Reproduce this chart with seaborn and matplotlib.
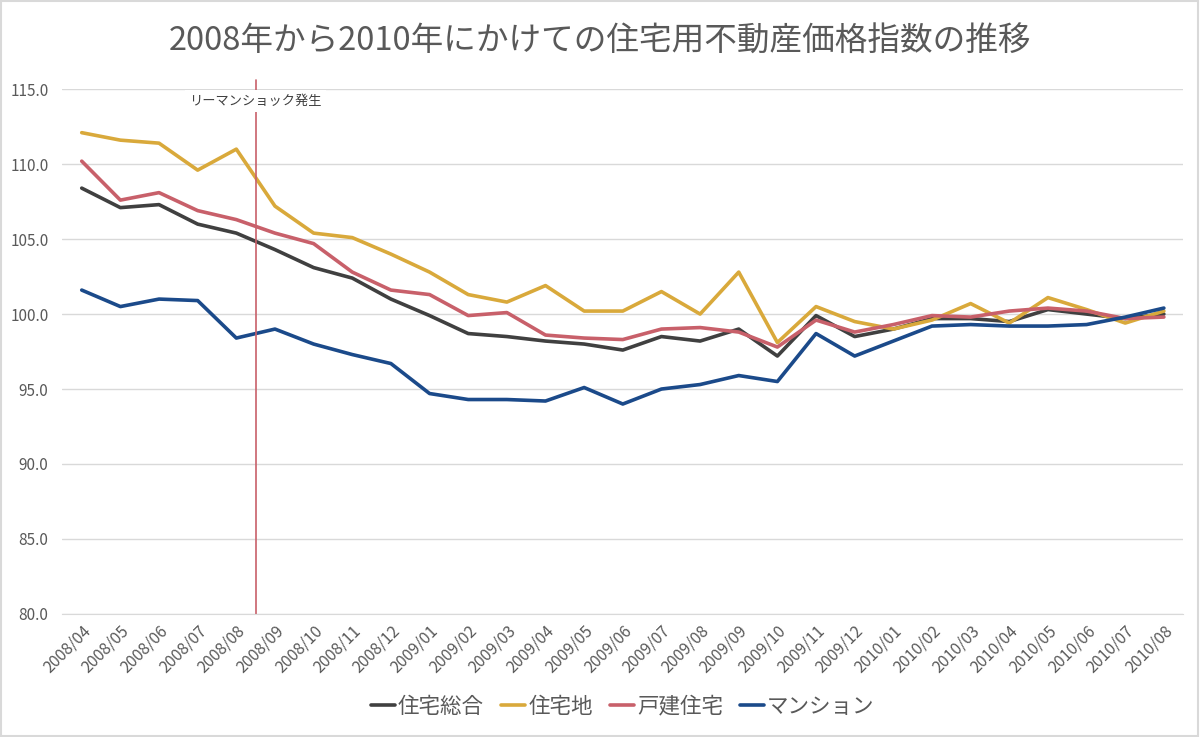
import matplotlib.pyplot as plt
import numpy as np
import pandas as pd
import seaborn as sns

months = ["2008/04", "2008/05", "2008/06", "2008/07", "2008/08", "2008/09", "2008/10", "2008/11", "2008/12",
          "2009/01", "2009/02", "2009/03", "2009/04", "2009/05", "2009/06", "2009/07", "2009/08", "2009/09",
          "2009/10", "2009/11", "2009/12", "2010/01", "2010/02", "2010/03", "2010/04", "2010/05", "2010/06",
          "2010/07", "2010/08"]

sogo = [108.4, 107.1, 107.3, 106.0, 105.4, 104.3, 103.1, 102.4, 101.0, 99.9, 98.7, 98.5, 98.2, 98.0, 97.6,
        98.5, 98.2, 99.0, 97.2, 99.9, 98.5, 99.0, 99.7, 99.7, 99.5, 100.3, 100.0, 99.7, 100.0]
takuchi = [112.1, 111.6, 111.4, 109.6, 111.0, 107.2, 105.4, 105.1, 104.0, 102.8, 101.3, 100.8, 101.9, 100.2, 100.2,
           101.5, 100.0, 102.8, 98.1, 100.5, 99.5, 99.0, 99.6, 100.7, 99.4, 101.1, 100.3, 99.4, 100.2]
kodate = [110.2, 107.6, 108.1, 106.9, 106.3, 105.4, 104.7, 102.8, 101.6, 101.3, 99.9, 100.1, 98.6, 98.4, 98.3,
          99.0, 99.1, 98.8, 97.8, 99.6, 98.8, 99.3, 99.9, 99.8, 100.2, 100.4, 100.2, 99.7, 99.8]
mansion = [101.6, 100.5, 101.0, 100.9, 98.4, 99.0, 98.0, 97.3, 96.7, 94.7, 94.3, 94.3, 94.2, 95.1, 94.0,
           95.0, 95.3, 95.9, 95.5, 98.7, 97.2, 98.2, 99.2, 99.3, 99.2, 99.2, 99.3, 99.8, 100.4]

series_names = ["住宅総合", "住宅地", "戸建住宅", "マンション"]
colors = ["#404040", "#D9A93B", "#C8606A", "#1B4A8A"]

df = pd.DataFrame({"idx": list(range(len(months))) * 4,
                   "value": sogo + takuchi + kodate + mansion,
                   "series": np.repeat(series_names, len(months))})

sns.set_style("white")
plt.rcParams['font.family'] = ['Noto Sans CJK JP', 'DejaVu Sans']

fig = plt.figure(figsize=(12, 7.37), dpi=100)
ax = fig.add_axes([0.052, 0.167, 0.934, 0.712])

sns.lineplot(data=df, x="idx", y="value", hue="series", hue_order=series_names,
             palette=colors, linewidth=2.6, ax=ax)

ax.set_xlim(-0.5, len(months) - 0.5)
ax.set_ylim(80, 115)
ax.set_yticks(np.arange(80, 116, 5))
ax.set_yticklabels([f"{v:.1f}" for v in np.arange(80, 116, 5)], fontsize=11, color="#595959")
ax.set_xticks(range(len(months)))
ax.set_xticklabels(months, rotation=45, ha="right", rotation_mode="anchor", fontsize=11.5, color="#595959")
ax.set_xticks(np.arange(-0.5, len(months), 1), minor=True)
ax.tick_params(axis="x", which="major", length=0, pad=6)
ax.tick_params(axis="x", which="minor", length=5, color="#D9D9D9")
ax.tick_params(axis="y", length=0, pad=10)
ax.grid(axis="y", color="#D9D9D9", linewidth=1)
for s in ["top", "right", "left"]:
    ax.spines[s].set_visible(False)
ax.spines["bottom"].set_color("#D9D9D9")
ax.set_xlabel("")
ax.set_ylabel("")

# リーマンショック
ax.axvline(4.5, ymin=0, ymax=1.017, color="#C8606A", linewidth=1.2, clip_on=False)
ax.text(4.5, 114.2, "リーマンショック発生", ha="center", va="center", fontsize=9.5, color="#404040",
        bbox=dict(facecolor="white", edgecolor="none", pad=3))

ax.legend(loc="center", bbox_to_anchor=(0.5, -0.177), ncol=4, frameon=False, fontsize=15.5,
          handlelength=1.1, handletextpad=0.15, columnspacing=0.8, labelcolor="#595959")

fig.suptitle("2008年から2010年にかけての住宅用不動産価格指数の推移", y=0.965, fontsize=23.5, color="#595959")

fig.patches.append(plt.Rectangle((0.001, 0.001), 0.997, 0.997, transform=fig.transFigure,
                                 fill=False, edgecolor="#D9D9D9", linewidth=1.5))

fig.savefig("out.png", dpi=100)
